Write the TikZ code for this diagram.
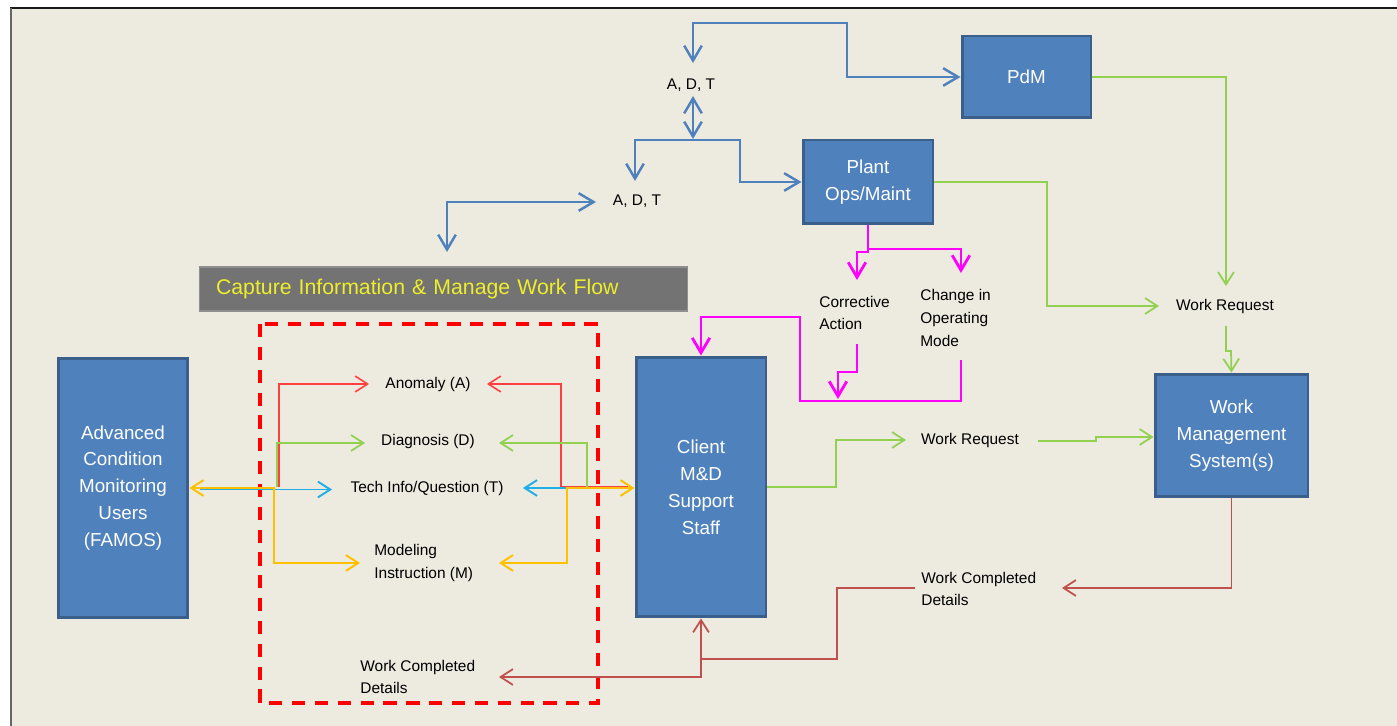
\documentclass[tikz,border=0pt]{standalone}
\usepackage{fontspec}
\setmainfont{Liberation Sans}
\usetikzlibrary{arrows.meta}
\definecolor{bgc}{HTML}{EDEAE0}
\definecolor{boxfill}{HTML}{4F81BD}
\definecolor{boxline}{HTML}{3A5F8B}
\definecolor{bannerc}{HTML}{737373}
\definecolor{bannertxt}{HTML}{EEEE2A}
\definecolor{grc}{HTML}{92D050}
\definecolor{mgc}{HTML}{FF00FF}
\definecolor{brc}{HTML}{C0504D}
\definecolor{cyc}{HTML}{1FAEE8}
\definecolor{ylc}{HTML}{FFC000}
\definecolor{rdc}{HTML}{FF4040}
\definecolor{blc}{HTML}{4F81BD}
\tikzset{
  box/.style={draw=boxline, fill=boxfill, line width=1.7pt, text=white, align=center,
    font=\fontsize{10.7}{15.3}\selectfont, inner sep=2pt},
  lbl/.style={inner sep=0pt, font=\fontsize{8.8}{13}\selectfont, text=black},
  lblL/.style={lbl, align=left, anchor=west},
  tip/.style={-{Straight Barb[length=7pt,width=9pt]}},
  tips/.style={{Straight Barb[length=7pt,width=9pt]}-{Straight Barb[length=7pt,width=9pt]}},
  btip/.style={-{Straight Barb[length=8.5pt,width=10pt]}},
  btips/.style={{Straight Barb[length=8.5pt,width=10pt]}-{Straight Barb[length=8.5pt,width=10pt]}},
  bl/.style={draw=blc, line width=1.4pt},
  mg/.style={draw=mgc, line width=1.6pt},
  gr/.style={draw=grc, line width=1pt},
  br/.style={draw=brc, line width=1pt},
  rd/.style={draw=rdc, line width=0.9pt},
  yl/.style={draw=ylc, line width=1.1pt},
  cy/.style={draw=cyc, line width=1.1pt},
}
\begin{document}
\begin{tikzpicture}[x=0.02cm, y=-0.02cm]
\useasboundingbox (0,0) rectangle (1397,726);
\fill[white] (0,0) rectangle (1397,726);
\fill[bgc] (11,8) rectangle (1397,726);
\draw[line width=1.3pt, black!90] (10,8) -- (1397,8);
\draw[line width=1.1pt, black!60] (11,8) -- (11,726);

% boxes
\node[box, minimum width=2.6cm, minimum height=5.2cm] (acmu) at (123,488) {Advanced\\Condition\\Monitoring\\Users\\(FAMOS)};
\node[box, minimum width=2.6cm, minimum height=5.2cm] (client) at (701,487) {Client\\M\&D\\Support\\Staff};
\node[box, minimum width=2.6cm, minimum height=1.68cm] (plant) at (868,182) {Plant\\Ops/Maint};
\node[box, minimum width=2.58cm, minimum height=1.64cm] (pdm) at (1026.5,77) {PdM};
\node[box, minimum width=3.06cm, minimum height=2.46cm] (wms) at (1231.5,435.5) {Work\\Management\\System(s)};

% banner
\node[fill=bannerc, draw=bannerc!80!white, line width=0.6pt, minimum width=9.78cm, minimum height=0.88cm,
  text width=9.1cm, align=left, inner xsep=0.34cm, text=bannertxt,
  font=\fontsize{12.1}{14}\selectfont] (banner) at (443.5,289) {Capture Information \& Manage Work Flow};

% dashed box
\draw[draw=red, line width=2.3pt, dash pattern=on 7.5pt off 5.5pt] (260,324) rectangle (598,703);

% labels
\node[lbl] (adt1) at (691,85) {A, D, T};
\node[lbl] (adt2) at (637,201) {A, D, T};
\node[lbl] (anom) at (428,385) {Anomaly (A)};
\node[lbl] (diag) at (428,442) {Diagnosis (D)};
\node[lbl] (tech) at (427,488) {Tech Info/Question (T)};
\node[lblL] (model) at (374,563) {Modeling\\Instruction (M)};
\node[lblL] (wcd1) at (360,677) {Work Completed\\Details};
\node[lblL] (corr) at (819,313) {Corrective\\Action};
\node[lblL] (chg) at (920,318) {Change in\\Operating\\Mode};
\node[lbl] (wr1) at (1225,307) {Work Request};
\node[lbl] (wr2) at (970,441) {Work Request};
\node[lblL] (wcd2) at (921,589) {Work Completed\\Details};

% blue connectors
\draw[bl, btips] (693,63) |- (847,23) |- (pdm.west);
\draw[bl, btips] (693,96) -- (693,139);
\draw[bl, btip] (634,140) -- (740,140) |- (plant.west);
\draw[bl, btip] (635,140) -- (635,181);
\draw[bl, btips] (447,252) |- (596,202);

% magenta connectors
\draw[mg, btip] (plant.south) -- (868,249) -- (961,249) -- (961,273);
\draw[mg, btip] (868,249) -- (868,252) -- (857,252) -- (857,280);
\draw[mg, btip] (857,344) |- (838,372) -- (838,399);
\draw[mg, btip] (961,360) |- (800,401) |- (701,317) -- (client.north);

% green connectors
\draw[gr, tip] (pdm.east) -| (1226,286);
\draw[gr, tip] (plant.east) -| (1047,306) -- (1159,306);
\draw[gr, tip] (1226,326) |- (1231,351) -- (wms.north);
\draw[gr, tip] (client.east) -| (836,440) -- (906,440);
\draw[gr, tip] (1038,441) -| (1096,437) -- (wms.west |- 1096,437);

% brown connectors
\draw[br, tip] (wms.south) |- (1062,588);
\draw[br] (915,588) -| (837,659) -- (701,659);
\draw[br, tips] (client.south) |- (499,677);

% inner connectors (left group)
\draw[rd, tip] (279,487) |- (369,384);
\draw[gr, tip] (277,487) |- (365,443);
\draw[rd, tip] (628,487) -- (561,487) |- (487,384);
\draw[gr, tip] (587,487) |- (499,443);
\draw[cy, tip] (200,489.5) -- (332,489.5);
\draw[cy, tip] (567,488) -- (523,488);
\draw[yl, tips] (acmu.east |- 0,488) -- (274,488) |- (360,563);
\draw[yl, tips] (client.west |- 0,488) -- (567,488) |- (499,563);
\end{tikzpicture}
\end{document}
